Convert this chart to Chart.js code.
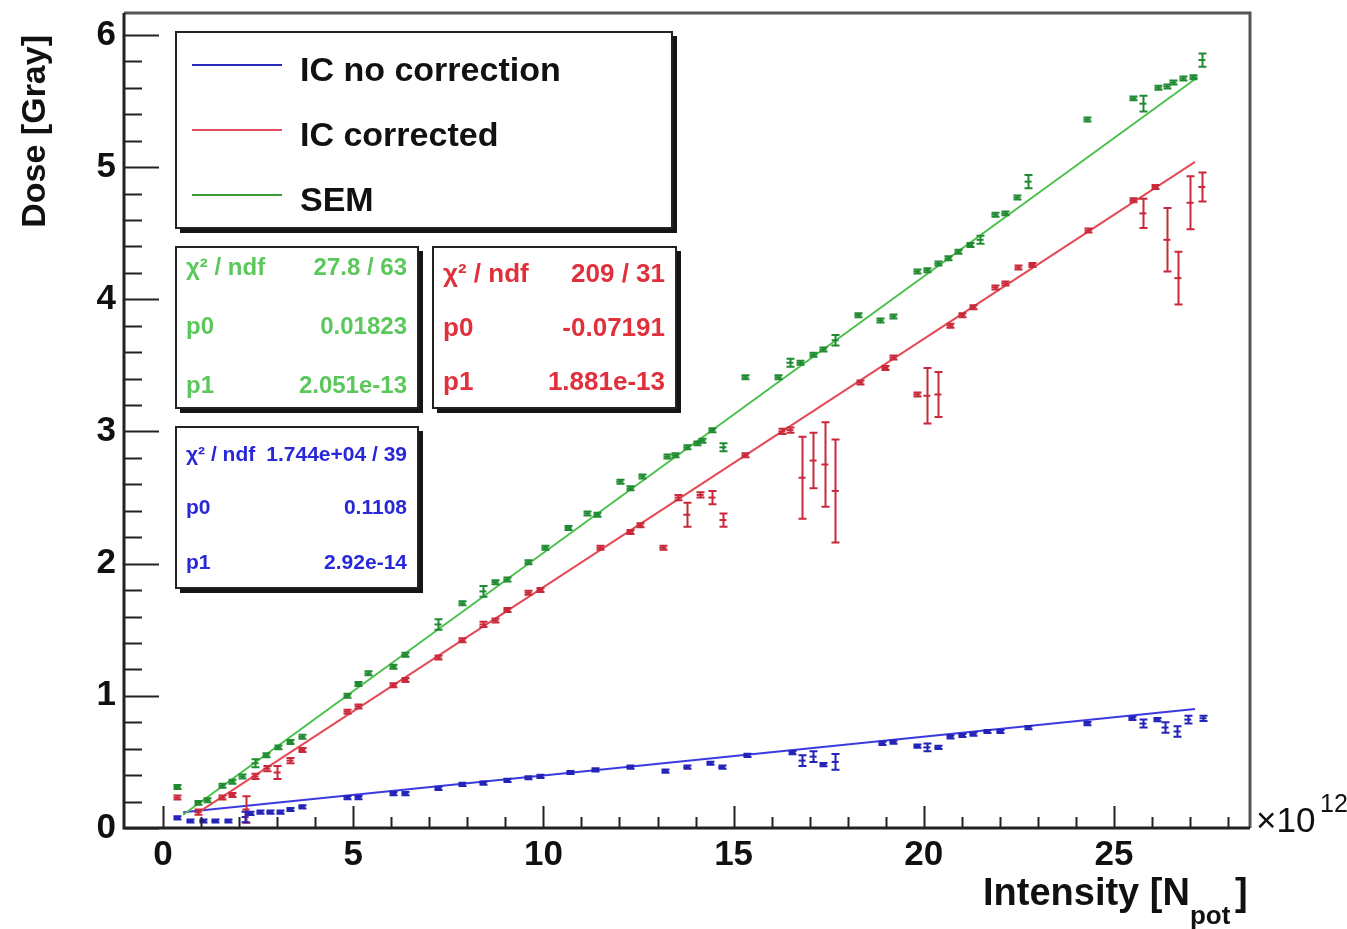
<!DOCTYPE html>
<html>
<head>
<meta charset="utf-8">
<title>Dose vs Intensity</title>
<script src="https://cdn.jsdelivr.net/npm/chart.js@4.4.1/dist/chart.umd.min.js"></script>
<style>
  html, body { margin: 0; padding: 0; background: #fff; }
  #wrap { width: 1347px; height: 929px; }
</style>
</head>
<body>
<div id="wrap"><canvas id="doseChart" width="1347" height="929"></canvas></div>
<script>
const greenX = [0.37,0.92,1.16,1.55,1.81,2.08,2.42,2.71,3.02,3.34,3.65,4.84,5.13,5.39,6.05,6.36,7.23,7.86,8.41,8.73,9.04,9.60,10.04,10.65,11.15,11.41,12.01,12.28,12.59,13.25,13.46,13.77,14.04,14.17,14.43,14.72,15.30,16.17,16.48,16.75,17.09,17.35,17.67,18.27,18.85,19.19,19.82,20.08,20.37,20.64,20.90,21.21,21.48,21.87,22.13,22.45,22.74,24.29,25.50,25.76,26.16,26.39,26.55,26.81,27.08,27.31];
const greenY = [0.31,0.19,0.21,0.32,0.35,0.39,0.49,0.55,0.61,0.65,0.69,1.00,1.09,1.17,1.22,1.31,1.54,1.70,1.79,1.86,1.88,2.01,2.12,2.27,2.38,2.37,2.62,2.57,2.66,2.81,2.82,2.88,2.91,2.93,3.01,2.88,3.41,3.41,3.52,3.52,3.58,3.62,3.69,3.88,3.84,3.87,4.21,4.22,4.27,4.31,4.36,4.41,4.45,4.64,4.65,4.77,4.89,5.36,5.52,5.48,5.60,5.61,5.64,5.67,5.68,5.81];
const greenErr = [0.015,0.015,0.015,0.015,0.015,0.015,0.03,0.015,0.015,0.015,0.015,0.015,0.015,0.015,0.015,0.015,0.04,0.015,0.04,0.015,0.015,0.015,0.015,0.015,0.015,0.015,0.015,0.015,0.015,0.015,0.015,0.015,0.015,0.015,0.015,0.03,0.015,0.015,0.03,0.015,0.015,0.015,0.04,0.015,0.015,0.015,0.015,0.015,0.015,0.015,0.015,0.015,0.03,0.015,0.015,0.015,0.05,0.015,0.015,0.06,0.015,0.015,0.015,0.015,0.015,0.05];

const redX = [0.37,0.92,1.55,1.81,2.18,2.42,2.73,3.00,3.34,3.65,4.84,5.13,6.05,6.36,7.23,7.86,8.41,8.73,9.04,9.60,9.91,11.49,12.28,12.54,13.14,13.54,13.77,14.12,14.43,14.72,15.30,16.27,16.48,16.80,17.09,17.40,17.67,18.32,18.98,19.19,19.82,20.08,20.37,20.69,21.00,21.29,21.87,22.13,22.48,22.84,24.32,25.50,25.76,26.08,26.39,26.68,27.00,27.31];
const redY = [0.23,0.12,0.23,0.25,0.14,0.39,0.45,0.42,0.51,0.59,0.88,0.92,1.08,1.12,1.29,1.42,1.54,1.57,1.65,1.78,1.80,2.12,2.24,2.29,2.12,2.50,2.37,2.52,2.50,2.33,2.82,3.00,3.01,2.65,2.78,2.75,2.55,3.37,3.48,3.56,3.28,3.27,3.28,3.80,3.88,3.94,4.09,4.12,4.24,4.26,4.52,4.75,4.65,4.85,4.45,4.16,4.73,4.85];
const redErr = [0.015,0.02,0.015,0.015,0.10,0.02,0.02,0.05,0.02,0.015,0.015,0.015,0.015,0.015,0.015,0.015,0.02,0.015,0.015,0.015,0.015,0.015,0.015,0.015,0.015,0.02,0.09,0.02,0.05,0.05,0.015,0.02,0.02,0.31,0.21,0.32,0.39,0.015,0.015,0.015,0.015,0.21,0.17,0.015,0.015,0.015,0.015,0.015,0.015,0.015,0.015,0.015,0.11,0.015,0.24,0.20,0.20,0.11];

const blueX = [0.37,0.71,1.05,1.37,1.71,2.16,2.29,2.55,2.81,3.08,3.34,3.65,4.84,5.13,6.05,6.36,7.23,7.86,8.41,9.04,9.60,9.91,10.70,11.36,12.28,13.20,13.77,14.38,14.69,15.35,16.54,16.80,17.09,17.35,17.67,18.90,19.19,19.82,20.08,20.37,20.69,21.00,21.29,21.66,22.00,22.74,24.29,25.47,25.76,26.13,26.34,26.66,26.94,27.34];
const blueY = [0.076,0.053,0.053,0.053,0.053,0.083,0.11,0.12,0.12,0.12,0.14,0.16,0.23,0.23,0.26,0.26,0.30,0.33,0.34,0.36,0.38,0.39,0.42,0.44,0.46,0.43,0.46,0.49,0.46,0.55,0.57,0.51,0.54,0.48,0.50,0.64,0.65,0.62,0.61,0.61,0.69,0.70,0.71,0.73,0.73,0.76,0.79,0.83,0.79,0.82,0.76,0.73,0.82,0.83];
const blueErr = [0.012,0.012,0.012,0.012,0.012,0.04,0.012,0.012,0.012,0.012,0.012,0.012,0.012,0.012,0.012,0.012,0.012,0.012,0.012,0.012,0.012,0.012,0.012,0.012,0.012,0.012,0.012,0.012,0.012,0.012,0.012,0.04,0.04,0.012,0.06,0.012,0.012,0.012,0.03,0.012,0.012,0.012,0.012,0.012,0.012,0.012,0.012,0.012,0.03,0.012,0.04,0.04,0.03,0.02];

// Fit line end points as drawn
const greenFitX = [0.53, 27.2];
const greenFitY = [0.10, 5.68];
const redFitX = [0.89, 27.13];
const redFitY = [0.11, 5.04];
const blueFitX = [0.53, 27.13];
const blueFitY = [0.12, 0.90];

// Axis ticks
const xTickValues = [0, 5, 10, 15, 20, 25];
const yTickValues = [0, 1, 2, 3, 4, 5, 6];

// Legend and fit boxes
const legendLabels = ['IC no correction', 'IC corrected', 'SEM'];
const greenStats = [['\u03c7\u00b2 / ndf', '27.8 / 63'], ['p0', '0.01823'], ['p1', '2.051e-13']];
const redStats = [['\u03c7\u00b2 / ndf', '209 / 31'], ['p0', '-0.07191'], ['p1', '1.881e-13']];
const blueStats = [['\u03c7\u00b2 / ndf', '1.744e+04 / 39'], ['p0', '0.1108'], ['p1', '2.92e-14']];

const FONT = 'Liberation Sans, Arial, Helvetica, sans-serif';

function toPoints(xs, ys) {
    return xs.map((x, i) => ({ x: x, y: ys[i] }));
}

function pointSet(xs, ys, errs, color) {
    return {
        type: 'scatter',
        data: toPoints(xs, ys),
        errY: errs,
        showLine: false,
        pointStyle: 'line',
        pointRadius: 3.5,
        pointBorderWidth: 2,
        pointBorderColor: color,
        pointBackgroundColor: color,
        borderColor: color,
        order: 1
    };
}

function fitSet(xs, ys, color) {
    return {
        type: 'line',
        data: toPoints(xs, ys),
        borderColor: color,
        borderWidth: 2,
        pointRadius: 0,
        fill: false,
        order: 2
    };
}

// Vertical error bars with caps
const errorBars = {
    id: 'errorBars',
    afterDatasetsDraw(chart) {
        const ctx = chart.ctx;
        const xs = chart.scales.x, ys = chart.scales.y;
        const area = chart.chartArea;
        ctx.save();
        ctx.beginPath();
        ctx.rect(area.left, area.top, area.right - area.left, area.bottom - area.top);
        ctx.clip();
        chart.data.datasets.forEach(ds => {
            if (!ds.errY) return;
            ctx.strokeStyle = ds.pointBorderColor;
            ctx.lineWidth = 2;
            ds.data.forEach((p, i) => {
                const e = ds.errY[i];
                const px = Math.round(xs.getPixelForValue(p.x)) + 0.5;
                const top = ys.getPixelForValue(p.y + e);
                const bot = ys.getPixelForValue(p.y - e);
                ctx.beginPath();
                ctx.moveTo(px, top);
                ctx.lineTo(px, bot);
                ctx.moveTo(px - 4, top);
                ctx.lineTo(px + 4, top);
                ctx.moveTo(px - 4, bot);
                ctx.lineTo(px + 4, bot);
                ctx.stroke();
            });
        });
        ctx.restore();
    }
};

function drawBox(ctx, x1, y1, x2, y2) {
    ctx.fillStyle = '#fff';
    ctx.fillRect(x1, y1, x2 - x1, y2 - y1);
    ctx.fillStyle = '#151515';
    ctx.fillRect(x2, y1 + 4, 5, y2 - y1 + 1);
    ctx.fillRect(x1 + 4, y2, x2 - x1 + 1, 5);
    ctx.strokeStyle = '#222';
    ctx.lineWidth = 2;
    ctx.strokeRect(x1, y1, x2 - x1, y2 - y1);
}

function drawStats(ctx, box, rows, rowY, color, size) {
    drawBox(ctx, box[0], box[1], box[2], box[3]);
    ctx.fillStyle = color;
    ctx.font = 'bold ' + size + 'px ' + FONT;
    ctx.textBaseline = 'middle';
    rows.forEach((r, i) => {
        ctx.textAlign = 'left';
        ctx.fillText(r[0], box[0] + 10, rowY[i]);
        ctx.textAlign = 'right';
        ctx.fillText(r[1], box[2] - 11, rowY[i]);
    });
}

// ROOT-style frame, inner ticks, legend, fit boxes and axis titles
const decorations = {
    id: 'decorations',
    afterDraw(chart) {
        const ctx = chart.ctx;
        const xs = chart.scales.x, ys = chart.scales.y;
        const a = chart.chartArea;
        ctx.save();

        // ticks pointing into the frame
        ctx.strokeStyle = '#222';
        ctx.lineWidth = 2;
        ctx.beginPath();
        for (let i = 0; i <= 30; i++) {
            const py = Math.round(ys.getPixelForValue(i * 0.2)) + 0.5;
            if (py < a.top + 2) continue;
            const len = i % 5 === 0 ? 35 : 18;
            ctx.moveTo(a.left, py);
            ctx.lineTo(a.left + len, py);
        }
        for (let i = 0; i <= 28; i++) {
            const px = Math.round(xs.getPixelForValue(i)) + 0.5;
            const len = i % 5 === 0 ? 22 : 11;
            ctx.moveTo(px, a.bottom);
            ctx.lineTo(px, a.bottom - len);
        }
        ctx.stroke();

        // frame
        ctx.lineWidth = 3;
        ctx.strokeStyle = '#555';
        ctx.beginPath();
        ctx.moveTo(a.left, a.top);
        ctx.lineTo(a.right, a.top);
        ctx.lineTo(a.right, a.bottom);
        ctx.stroke();
        ctx.strokeStyle = '#222';
        ctx.beginPath();
        ctx.moveTo(a.left, a.top);
        ctx.lineTo(a.left, a.bottom);
        ctx.lineTo(a.right, a.bottom);
        ctx.stroke();

        // legend
        drawBox(ctx, 176, 32, 672, 228);
        const legendColors = ['#2a2ac0', '#e2505e', '#3a9a3a'];
        const legendY = [65, 130, 195];
        ctx.font = 'bold 34px ' + FONT;
        ctx.textAlign = 'left';
        ctx.textBaseline = 'alphabetic';
        legendLabels.forEach((label, i) => {
            ctx.strokeStyle = legendColors[i];
            ctx.lineWidth = 2;
            ctx.beginPath();
            ctx.moveTo(192, legendY[i]);
            ctx.lineTo(282, legendY[i]);
            ctx.stroke();
            ctx.fillStyle = '#111';
            ctx.fillText(label, 300, legendY[i] + 16);
        });

        // fit result boxes
        drawStats(ctx, [176, 247, 418, 408], greenStats, [268, 327, 386], '#5cc85c', 24);
        drawStats(ctx, [433, 247, 676, 408], redStats, [275, 329, 383], '#e0303c', 26);
        drawStats(ctx, [176, 427, 418, 588], blueStats, [455, 508, 563], '#2828d8', 21);

        // axis titles
        ctx.fillStyle = '#111';
        ctx.font = 'bold 34px ' + FONT;
        ctx.save();
        ctx.translate(36, 35);
        ctx.rotate(-Math.PI / 2);
        ctx.textAlign = 'right';
        ctx.textBaseline = 'middle';
        ctx.fillText('Dose [Gray]', 0, 0);
        ctx.restore();

        ctx.textAlign = 'left';
        ctx.textBaseline = 'alphabetic';
        ctx.font = 'bold 38px ' + FONT;
        ctx.fillText('Intensity [N', 983, 905);
        const w = ctx.measureText('Intensity [N').width;
        ctx.font = 'bold 26px ' + FONT;
        ctx.fillText('pot', 983 + w, 924);
        ctx.font = 'bold 38px ' + FONT;
        ctx.fillText(']', 1235, 905);

        ctx.font = '35px ' + FONT;
        ctx.fillText('\u00d710', 1256, 832);
        ctx.font = '25px ' + FONT;
        ctx.fillText('12', 1320, 812);

        ctx.restore();
    }
};

const ctx = document.getElementById('doseChart').getContext('2d');
new Chart(ctx, {
    data: {
        datasets: [
            fitSet(greenFitX, greenFitY, '#4cc04c'),
            fitSet(redFitX, redFitY, '#e44a56'),
            fitSet(blueFitX, blueFitY, '#3a3ae0'),
            pointSet(greenX, greenY, greenErr, '#1f8a30'),
            pointSet(redX, redY, redErr, '#c8283a'),
            pointSet(blueX, blueY, blueErr, '#2323b8')
        ]
    },
    options: {
        responsive: false,
        animation: false,
        devicePixelRatio: 1,
        layout: { padding: { left: 0, top: 13, right: 97, bottom: 0 } },
        plugins: {
            legend: { display: false },
            tooltip: { enabled: false }
        },
        scales: {
            x: {
                type: 'linear',
                min: -1.025,
                max: 28.575,
                grid: { display: false, drawTicks: false },
                border: { display: false },
                afterFit: function(scale) {
                    scale.height = 101;
                    scale.paddingLeft = 0;
                    scale.paddingRight = 0;
                },
                afterBuildTicks: function(scale) {
                    scale.ticks = xTickValues.map(v => ({ value: v }));
                },
                ticks: {
                    autoSkip: false,
                    maxRotation: 0,
                    padding: 6,
                    color: '#111',
                    font: { family: FONT, size: 35, weight: 'bold' }
                }
            },
            y: {
                type: 'linear',
                min: 0,
                max: 6.166,
                grid: { display: false, drawTicks: false },
                border: { display: false },
                afterFit: function(scale) {
                    scale.width = 124;
                    scale.paddingTop = 0;
                    scale.paddingBottom = 0;
                },
                afterBuildTicks: function(scale) {
                    scale.ticks = yTickValues.map(v => ({ value: v }));
                },
                ticks: {
                    autoSkip: false,
                    padding: 8,
                    color: '#111',
                    font: { family: FONT, size: 35, weight: 'bold' }
                }
            }
        }
    },
    plugins: [errorBars, decorations]
});
</script>
</body>
</html>
